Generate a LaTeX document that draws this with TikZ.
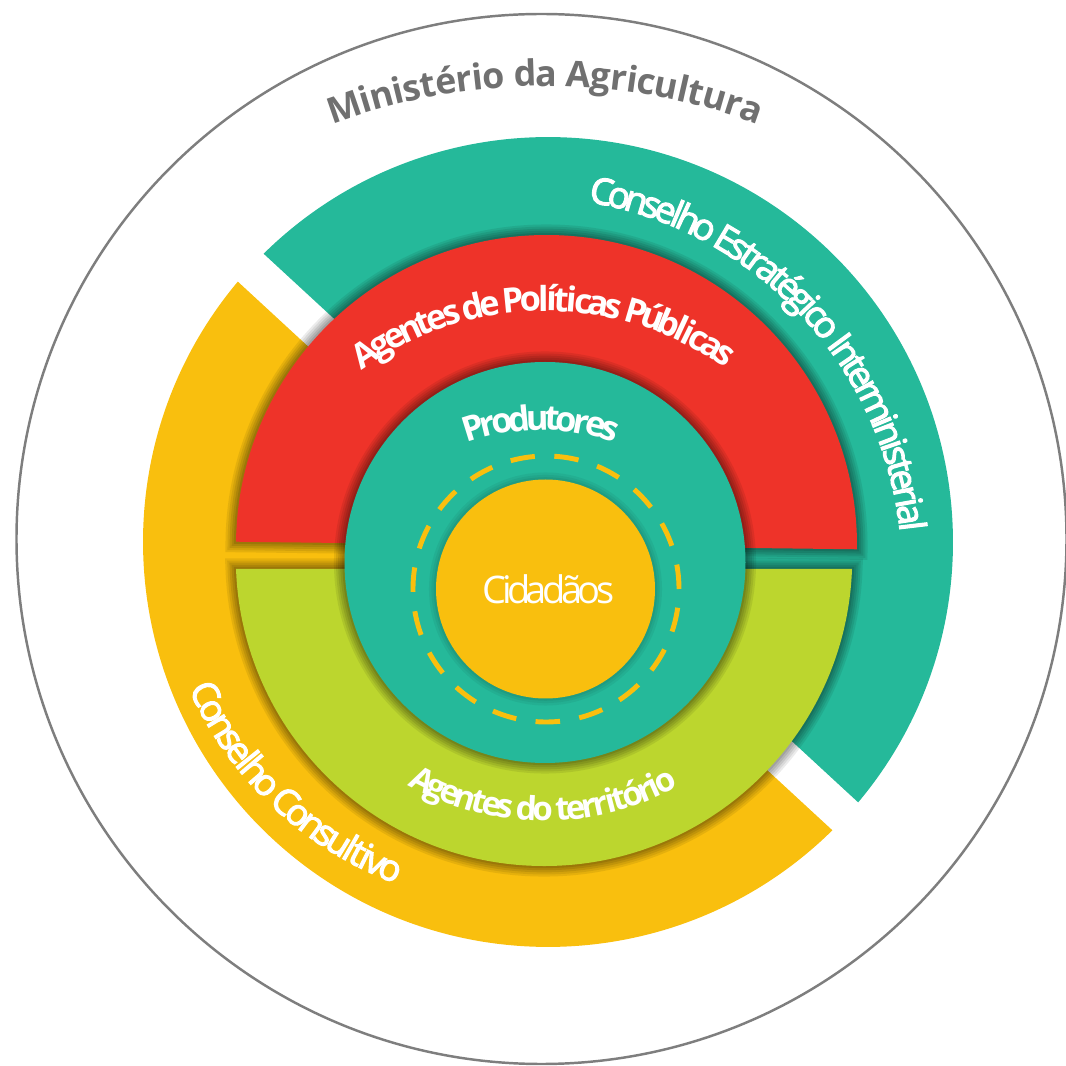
\documentclass[tikz,border=0pt]{standalone}
\usepackage{fontspec}
\setmainfont{Open Sans}
\usetikzlibrary{decorations.text}
\definecolor{tealc}{RGB}{37,185,154}
\definecolor{redc}{RGB}{238,51,41}
\definecolor{yellowc}{RGB}{249,191,14}
\definecolor{greenc}{RGB}{188,214,46}
\definecolor{grayc}{RGB}{112,112,112}
\newcommand\ministfont{\bfseries\fontsize{10.2}{12}\selectfont}
\newcommand\consfont{\addfontfeatures{FakeBold=3}\fontsize{10.4}{12}\selectfont}
\newcommand\agfont{\bfseries\fontsize{9.8}{12}\selectfont}
\newcommand\terfont{\bfseries\fontsize{9.4}{12}\selectfont}
\newcommand\cidfont{\addfontfeatures{LetterSpace=-12}\fontsize{10.8}{12}\selectfont}
\tikzset{soft/.style={
  preaction={draw=black, draw opacity=.08, line width=6pt},
  preaction={draw=black, draw opacity=.08, line width=4.8pt},
  preaction={draw=black, draw opacity=.09, line width=3.6pt},
  preaction={draw=black, draw opacity=.09, line width=2.4pt},
  preaction={draw=black, draw opacity=.1, line width=1.2pt}}}
\tikzset{faint/.style={
  preaction={draw=black, draw opacity=.05, line width=4pt},
  preaction={draw=black, draw opacity=.05, line width=2.6pt},
  preaction={draw=black, draw opacity=.06, line width=1.3pt}}}
\tikzset{arctext/.style n args={3}{decorate, decoration={text effects along path,
  text={#1}, text effects/.cd, text along path, fit text to path,
  characters={text=#3, anchor=base, font=#2}}}}

\begin{document}
\begin{tikzpicture}[x=0.01cm,y=0.01cm]
  \useasboundingbox (0,0) rectangle (1066,1066);
  \clip (0,0) rectangle (1066,1066);
  \draw[grayc!90, line width=0.7pt] (541.5,527) circle[radius=525];

  % the two councils
  \begin{scope}[shift={(548,524)}, rotate=-42.7]
    \fill[tealc] (404.55,19) arc[start angle=2.69, end angle=177.31, radius=405] -- cycle;
    \fill[yellowc] (-404.55,-19) arc[start angle=182.69, end angle=357.31, radius=405] -- cycle;
  \end{scope}

  \fill[redc, soft, rotate around={-0.7:(546.5,520.5)}] (857,520.5)
    arc[start angle=0, end angle=180, radius=310.5] -- cycle;
  \fill[greenc, soft] (852,497) arc[start angle=-2.08, end angle=-177.92, radius=308.2] -- cycle;

  \fill[tealc, soft] (545,503.5) circle[radius=200.5];
  \draw[yellowc, line width=1.4pt, dash pattern=on 0.245cm off 0.195cm] (546,477) circle[radius=133];
  \fill[yellowc, faint] (545.5,477) circle[radius=109.5];
  \node[text=white, font=\cidfont, anchor=base, inner sep=0pt] (cid) at (548.5,462) {Cidadãos};

  % curved labels
  \path[arctext={Ministério da Agricultura}{\ministfont}{grayc}]
    (545.5,374.3) ++(110.6:605.7) arc[start angle=110.6, end angle=69.5, radius=605.7];
  \path[arctext={Conselho Estratégico Interministerial}{\consfont}{white}]
    (527.6,494.4) ++(80.7:374.5) arc[start angle=80.7, end angle=6.1, radius=374.5];
  \path[arctext={Agentes de Políticas Públicas}{\agfont}{white}]
    (545,443) ++(125.9:312) arc[start angle=125.9, end angle=54.6, radius=312];
  \path[arctext={Produtores}{\agfont}{white}]
    (541,419) ++(110.1:217) arc[start angle=110.1, end angle=70.1, radius=217];
  \path[arctext={Agentes do território}{\terfont}{white}]
    (544,523) ++(240.5:278) arc[start angle=240.5, end angle=299, radius=278];
  \path[arctext={Conselho Consultivo}{\consfont}{white}]
    (525,527) ++(204:368) arc[start angle=204, end angle=249.5, radius=368];
\end{tikzpicture}
\end{document}
